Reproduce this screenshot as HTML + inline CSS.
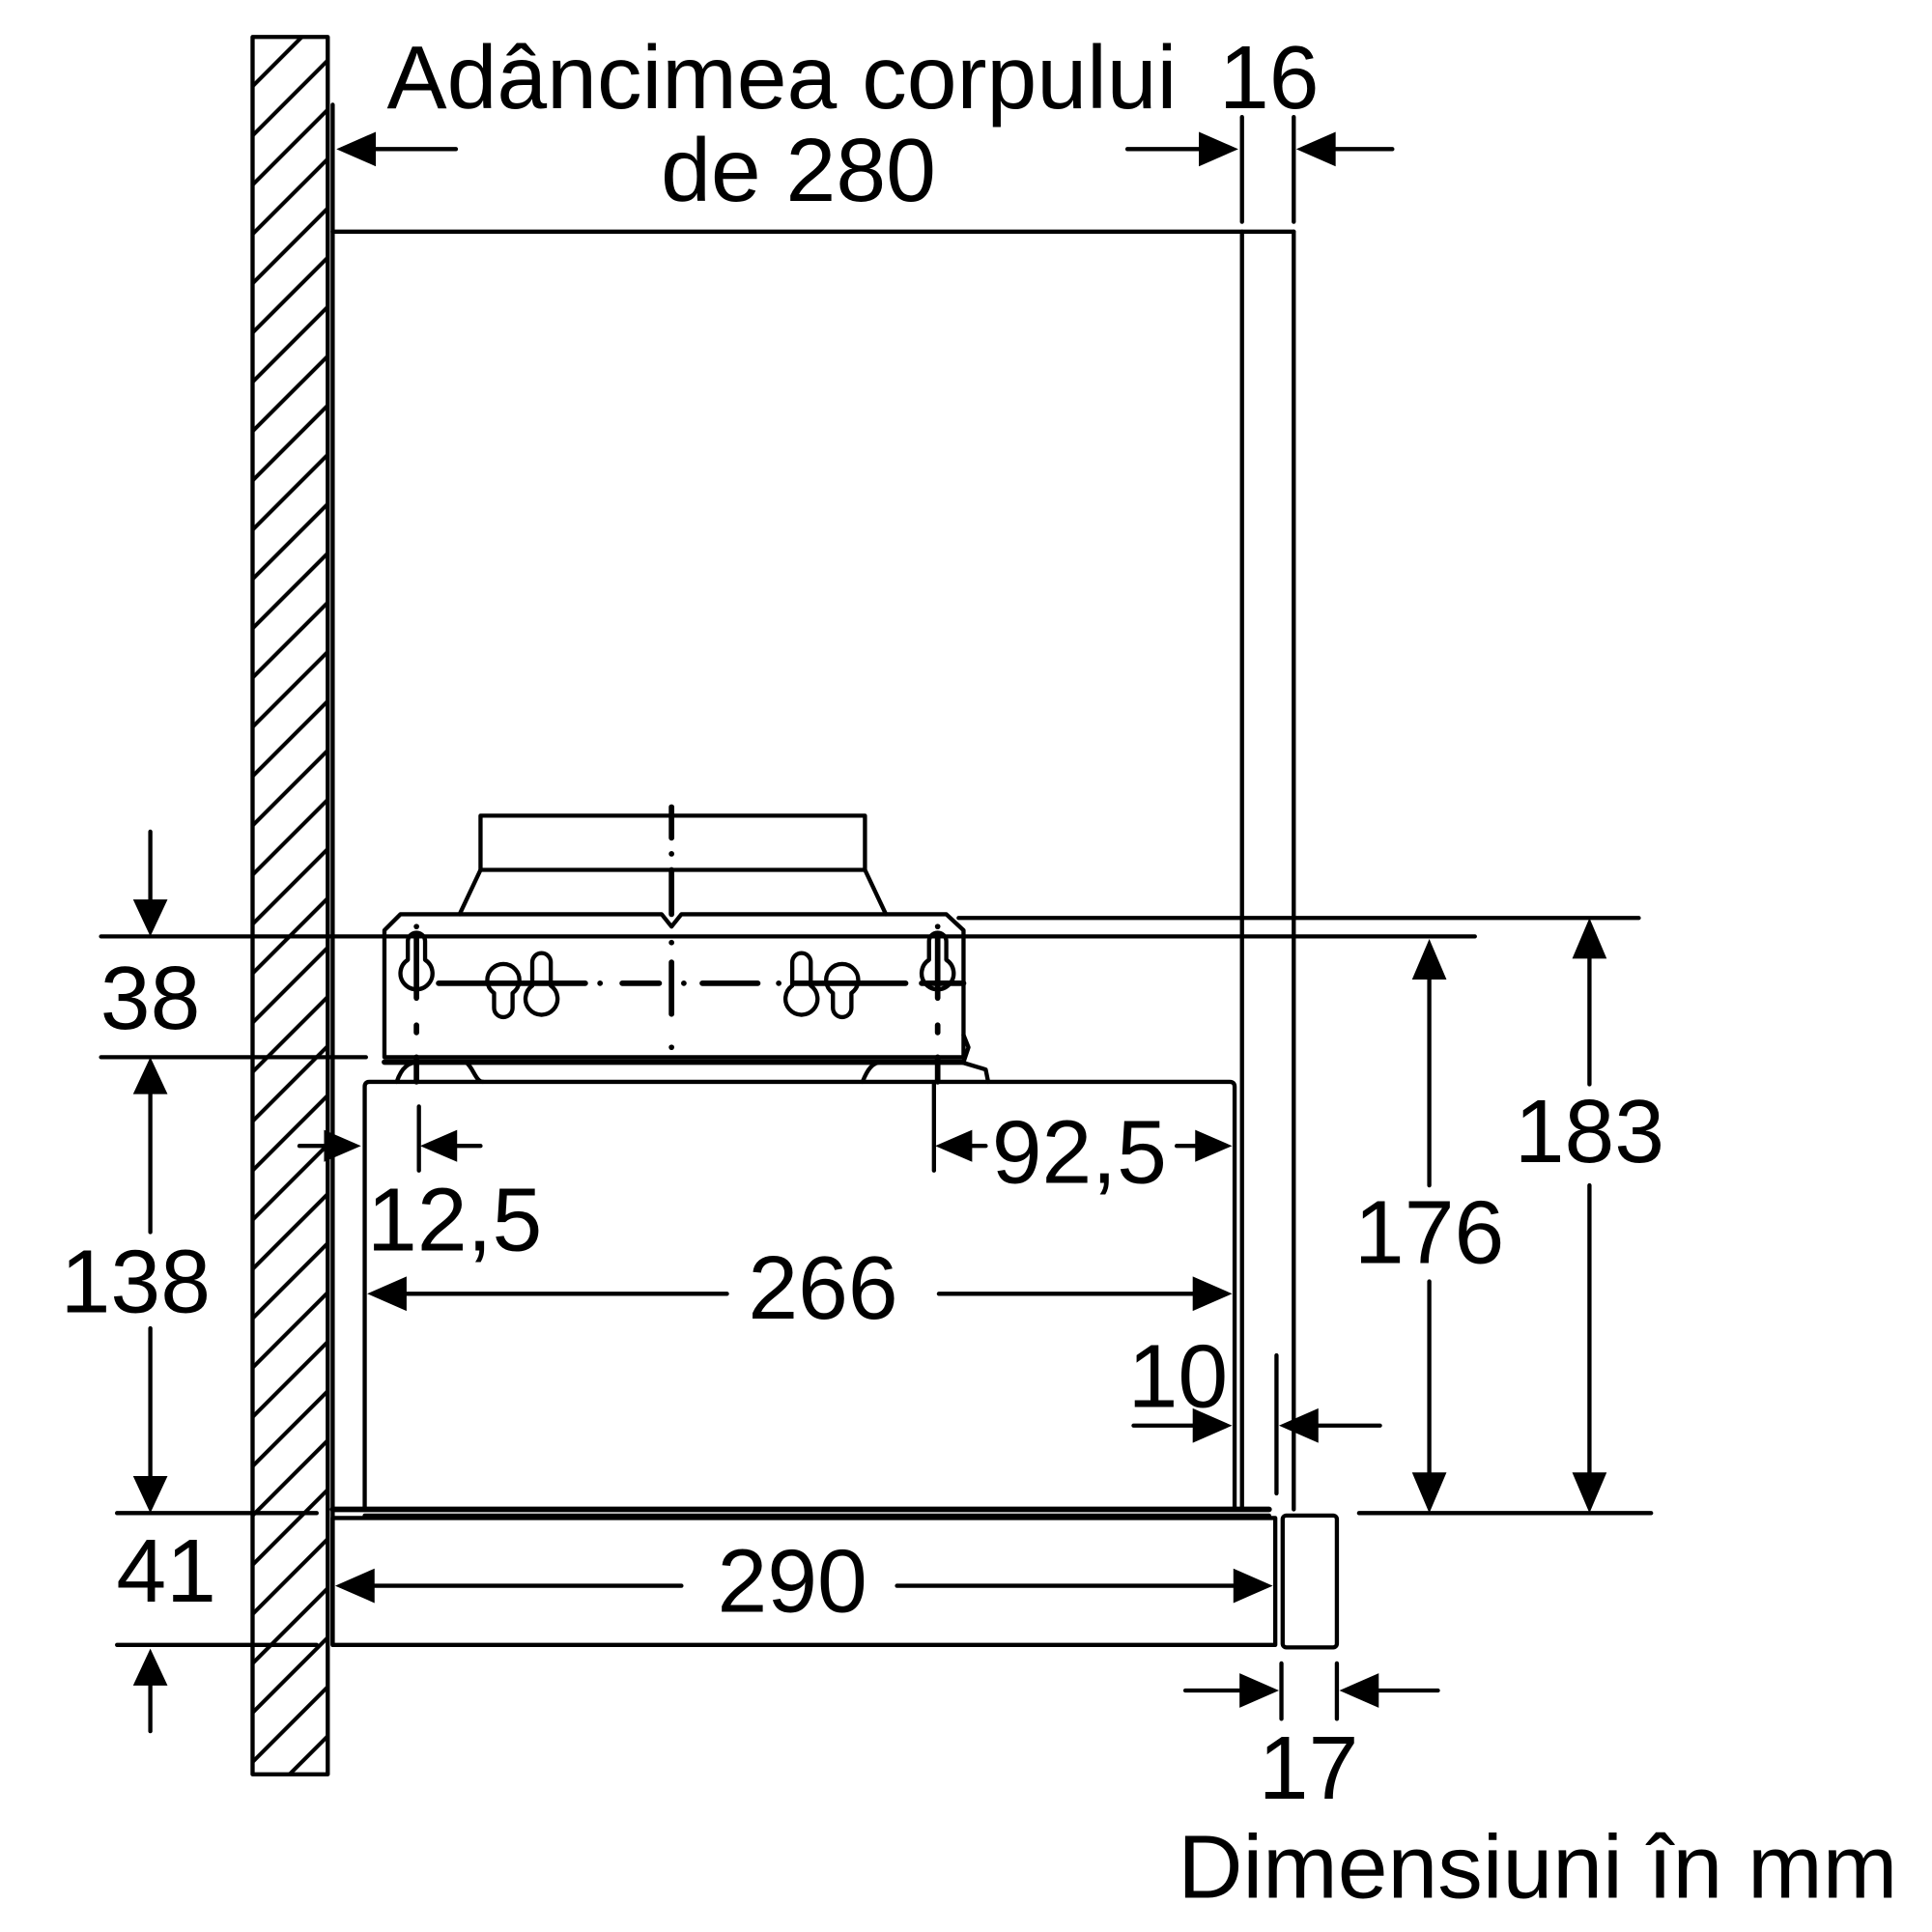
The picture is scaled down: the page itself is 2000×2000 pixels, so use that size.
<!DOCTYPE html>
<html><head><meta charset="utf-8"><style>
html,body{margin:0;padding:0;background:#fff;}
svg{display:block;}
text{font-family:"Liberation Sans",sans-serif;fill:#000;}
</style></head><body>
<svg width="2000" height="2000" viewBox="0 0 1568 1568" xmlns="http://www.w3.org/2000/svg">
<defs>
<pattern id="h" patternUnits="userSpaceOnUse" x="205" y="30" width="40" height="40">
<path d="M0,40 L40,0 M-10,10 L10,-10 M30,50 L50,30" stroke="#000" stroke-width="3.2"/>
</pattern>
</defs>
<g fill="none" stroke="#000" stroke-width="3.4" stroke-linecap="round" stroke-linejoin="round">
<rect x="205" y="30" width="61" height="1410" fill="url(#h)"/>
<line x1="270" y1="85" x2="270" y2="1335"/>
<line x1="270" y1="188" x2="1050" y2="188"/>
<line x1="1008" y1="188" x2="1008" y2="1225"/>
<line x1="1050" y1="188" x2="1050" y2="1225"/>
<line x1="1008" y1="95" x2="1008" y2="180"/>
<line x1="1050" y1="95" x2="1050" y2="180"/>
<rect x="390" y="662" width="312" height="44"/>
<path d="M390,706 L373,742 M702,706 L719,742"/>
<path d="M312,755 L325,742 L537,742 L545,752 L553,742 L768,742 L782,755 L782,858 L312,858 Z"/>
<path d="M312,862 L782,862" stroke-width="4.5"/>
<path d="M322,878 C326,866 332,862 340,862 L378,862 C384,866 386,878 392,878"/>
<path d="M700,878 C704,868 708,862 716,862 L780,862 L800,868 L802,878"/>
<path d="M782,840 L786,850 L782,862"/>
<!-- keyholes -->
<path d="M331,764 a7,7 0 0 1 14,0 L345,779 a13,13 0 1 1 -14,0 Z"/>
<path d="M754,764 a7,7 0 0 1 14,0 L768,779 a13,13 0 1 1 -14,0 Z"/>
<path d="M401,806 L401,818 a7.5,7.5 0 0 0 15,0 L416,806 a13,13 0 1 0 -15,0 Z"/>
<path d="M432,781 a7.5,7.5 0 0 1 15,0 L447,800 a13,13 0 1 1 -15,0 Z"/>
<path d="M643,781 a7.5,7.5 0 0 1 15,0 L658,800 a13,13 0 1 1 -15,0 Z"/>
<path d="M676,806 L676,818 a7.5,7.5 0 0 0 15,0 L691,806 a13,13 0 1 0 -15,0 Z"/>
<path d="M356,798 L475,798 M487,798 L487,798 M505,798 L535,798 M555,798 L555,798 M570,798 L615,798 M632,798 L632,798 M645,798 L735,798 M748,798 L782,798" stroke-width="4.5"/>
<path d="M545,655 L545,680 M545,693 L545,693 M545,706 L545,742 M545,765 L545,765 M545,781 L545,823 M545,850 L545,850" stroke-width="4.5"/>
<path d="M338,878 L338,858 M338,838 L338,832 M338,810 L338,760 M338,752 L338,752" stroke-width="4.5"/>
<path d="M761,878 L761,858 M761,838 L761,832 M761,810 L761,760 M761,752 L761,752" stroke-width="4.5"/>
<path d="M300,878 L998,878 Q1002,878 1002,882 L1002,1225 L296,1225 L296,882 Q296,878 300,878 Z"/>
<line x1="270" y1="1225" x2="1030" y2="1225" stroke-width="4.5"/>
<line x1="296" y1="1230" x2="1030" y2="1230"/>
<rect x="270" y="1232" width="765" height="103"/>
<rect x="1041" y="1230" width="44" height="107" rx="3"/>
<line x1="778" y1="745" x2="1330" y2="745"/>
<line x1="82" y1="760" x2="1197" y2="760"/>
<line x1="82" y1="858" x2="297" y2="858"/>
<line x1="95" y1="1228" x2="257" y2="1228"/>
<line x1="1103" y1="1228" x2="1340" y2="1228"/>
<line x1="95" y1="1335" x2="257" y2="1335"/>
<line x1="122" y1="675" x2="122" y2="740"/>
<line x1="122" y1="880" x2="122" y2="1000"/>
<line x1="122" y1="1078" x2="122" y2="1205"/>
<line x1="122" y1="1360" x2="122" y2="1405"/>
<line x1="1160" y1="780" x2="1160" y2="962"/>
<line x1="1160" y1="1040" x2="1160" y2="1205"/>
<line x1="1290" y1="765" x2="1290" y2="880"/>
<line x1="1290" y1="962" x2="1290" y2="1205"/>
<line x1="295" y1="121" x2="370" y2="121"/>
<line x1="915" y1="121" x2="985" y2="121"/>
<line x1="1072" y1="121" x2="1130" y2="121"/>
<line x1="243" y1="930" x2="270" y2="930"/>
<line x1="362" y1="930" x2="390" y2="930"/>
<line x1="340" y1="898" x2="340" y2="950"/>
<line x1="758" y1="880" x2="758" y2="950"/>
<line x1="780" y1="930" x2="800" y2="930"/>
<line x1="955" y1="930" x2="978" y2="930"/>
<line x1="320" y1="1050" x2="590" y2="1050"/>
<line x1="762" y1="1050" x2="978" y2="1050"/>
<line x1="920" y1="1157" x2="978" y2="1157"/>
<line x1="1060" y1="1157" x2="1120" y2="1157"/>
<line x1="1036" y1="1100" x2="1036" y2="1212"/>
<line x1="294" y1="1287" x2="553" y2="1287"/>
<line x1="728" y1="1287" x2="1010" y2="1287"/>
<line x1="962" y1="1372" x2="1015" y2="1372"/>
<line x1="1110" y1="1372" x2="1167" y2="1372"/>
<line x1="1040" y1="1350" x2="1040" y2="1395"/>
<line x1="1085" y1="1350" x2="1085" y2="1395"/>
</g>
<g fill="#000">
<polygon points="122,760 108,730 136,730"/>
<polygon points="122,858 108,888 136,888"/>
<polygon points="122,1228 108,1198 136,1198"/>
<polygon points="122,1338 108,1368 136,1368"/>
<polygon points="1160,762 1146,795 1174,795"/>
<polygon points="1160,1228 1146,1195 1174,1195"/>
<polygon points="1290,745 1276,778 1304,778"/>
<polygon points="1290,1228 1276,1195 1304,1195"/>
<polygon points="273,121 305,107 305,135"/>
<polygon points="1005,121 973,107 973,135"/>
<polygon points="1052,121 1084,107 1084,135"/>
<polygon points="293,930 263,917 263,943"/>
<polygon points="341,930 371,917 371,943"/>
<polygon points="759,930 789,917 789,943"/>
<polygon points="1000,930 970,917 970,943"/>
<polygon points="298,1050 330,1036 330,1064"/>
<polygon points="1000,1050 968,1036 968,1064"/>
<polygon points="1000,1157 968,1143 968,1171"/>
<polygon points="1038,1157 1070,1143 1070,1171"/>
<polygon points="272,1287 304,1273 304,1301"/>
<polygon points="1033,1287 1001,1273 1001,1301"/>
<polygon points="1038,1372 1006,1358 1006,1386"/>
<polygon points="1087,1372 1119,1358 1119,1386"/>
</g>
<g font-size="73">
<text x="314" y="88">Adâncimea corpului</text>
<text x="1030" y="88" text-anchor="middle">16</text>
<text x="648" y="163" text-anchor="middle">de 280</text>
<text x="122" y="835" text-anchor="middle">38</text>
<text x="110" y="1065" text-anchor="middle">138</text>
<text x="135" y="1300" text-anchor="middle">41</text>
<text x="1290" y="943" text-anchor="middle">183</text>
<text x="1160" y="1025" text-anchor="middle">176</text>
<text x="369" y="1015" text-anchor="middle">12,5</text>
<text x="876" y="960" text-anchor="middle">92,5</text>
<text x="668" y="1070" text-anchor="middle">266</text>
<text x="956" y="1142" text-anchor="middle">10</text>
<text x="643" y="1308" text-anchor="middle">290</text>
<text x="1062" y="1460" text-anchor="middle">17</text>
<text x="1540" y="1540" text-anchor="end">Dimensiuni în mm</text>
</g>
</svg>
</body></html>
